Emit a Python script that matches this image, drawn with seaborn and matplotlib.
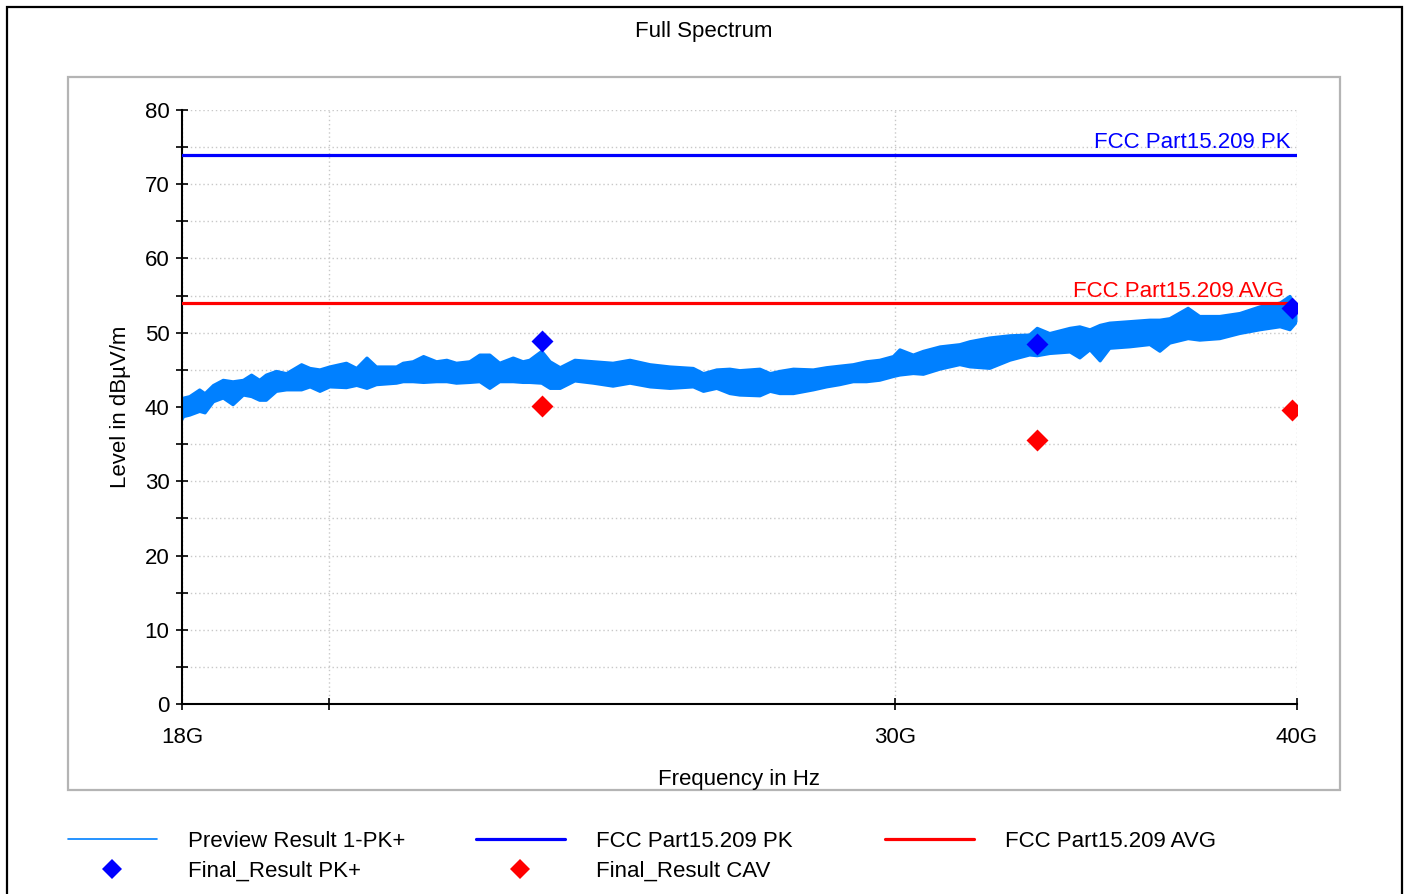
import numpy as np
import pandas as pd
import matplotlib
matplotlib.use("Agg")
import matplotlib.pyplot as plt
import seaborn as sns
from matplotlib.patches import Rectangle
from matplotlib.lines import Line2D

# ---------------- data ----------------
# envelope of the preview trace (top and bottom of the noisy band), dBuV/m
trace_freq_ghz = [18.00, 18.02, 18.10, 18.23, 18.30, 18.41, 18.54, 18.67, 18.81, 18.92,
                  19.03, 19.12, 19.26, 19.40, 19.61, 19.73, 19.87, 20.01, 20.25, 20.40,
                  20.55, 20.69, 20.99, 21.09, 21.24, 21.40, 21.60, 21.76, 21.91, 22.12,
                  22.28, 22.44, 22.60, 22.82, 22.98, 23.09, 23.29, 23.43, 23.60, 23.85,
                  24.17, 24.51, 24.81, 25.17, 25.53, 25.96, 26.15, 26.40, 26.65, 26.84,
                  27.23, 27.43, 27.62, 27.89, 28.29, 28.56, 28.83, 29.11, 29.39, 29.67,
                  29.96, 30.10, 30.39, 30.61, 30.98, 31.42, 31.65, 32.10, 32.57, 33.03,
                  33.21, 33.51, 34.00, 34.24, 34.49, 34.74, 34.98, 35.49, 36.00, 36.26,
                  36.52, 37.00, 37.31, 37.85, 38.40, 38.96, 39.52, 39.80, 40.00]
trace_upper = [40.8, 41.2, 41.4, 42.3, 41.8, 42.9, 43.6, 43.4, 43.6, 44.3,
               43.6, 44.3, 44.8, 44.5, 45.7, 45.2, 45.0, 45.4, 45.9, 45.2,
               46.6, 45.4, 45.4, 45.9, 46.1, 46.8, 46.1, 46.3, 45.9, 46.1,
               47.0, 47.0, 45.9, 46.6, 46.1, 46.3, 47.5, 46.1, 45.3, 46.3,
               46.1, 45.9, 46.3, 45.7, 45.4, 45.2, 44.5, 45.0, 45.1, 44.9,
               45.1, 44.5, 44.8, 45.1, 45.0, 45.3, 45.5, 45.7, 46.1, 46.3,
               46.8, 47.7, 47.0, 47.5, 48.1, 48.4, 48.8, 49.3, 49.6, 49.7,
               50.6, 49.9, 50.6, 50.8, 50.4, 51.0, 51.3, 51.5, 51.7, 51.7,
               51.9, 53.3, 52.2, 52.2, 52.6, 53.5, 54.0, 54.9, 53.0]
trace_lower = [38.3, 38.7, 38.9, 39.4, 39.2, 40.7, 41.2, 40.3, 41.6, 41.4,
               40.9, 40.9, 42.1, 42.3, 42.3, 42.7, 42.1, 42.7, 42.6, 42.9,
               42.5, 43.0, 43.2, 43.4, 43.4, 43.3, 43.4, 43.4, 43.2, 43.3,
               43.4, 42.5, 43.4, 43.4, 43.3, 43.3, 43.2, 42.5, 42.5, 43.5,
               43.2, 42.8, 43.2, 42.7, 42.5, 42.7, 42.1, 42.5, 41.8, 41.6,
               41.5, 42.1, 41.8, 41.8, 42.3, 42.7, 43.0, 43.4, 43.4, 43.6,
               44.1, 44.3, 44.5, 44.4, 45.1, 45.7, 45.4, 45.2, 46.3, 47.0,
               46.9, 47.2, 47.4, 46.6, 47.7, 46.2, 47.9, 48.1, 48.4, 47.5,
               48.6, 49.2, 49.0, 49.2, 49.9, 50.4, 50.8, 50.4, 51.5]

limit_freq_ghz = [18.0, 40.0]
limit_pk = [74.0, 74.0]
limit_avg = [54.0, 54.0]

final_freq_ghz = [23.29, 33.20, 39.85]
final_pk = [48.9, 48.5, 53.3]
final_cav = [40.1, 35.6, 39.6]

x_tick_ghz = [18, 20, 30, 40]
x_tick_labels = ["18G", "", "30G", "40G"]
y_ticks = list(range(0, 81, 5))
y_tick_labels = [str(v) if v % 10 == 0 else "" for v in y_ticks]

# ---------------- styling ----------------
sns.set_theme(style="white")
plt.rcParams["font.family"] = ["Liberation Sans", "DejaVu Sans"]
plt.rcParams["text.color"] = "black"
plt.rcParams["axes.labelcolor"] = "black"

C_TRACE = "#0080ff"
C_PK = "#0000ff"
C_AVG = "#ff0000"
FS = 16

fig = plt.figure(figsize=(14.08, 8.94), dpi=100)
W, H = 1408.0, 894.0

# outer border
fig.patches.append(Rectangle((7 / W, -0.02), (1402 - 7) / W, 1 - 7 / H + 0.02,
                             transform=fig.transFigure, fill=False,
                             edgecolor="black", linewidth=1.6, zorder=-2))
# inner panel
fig.patches.append(Rectangle((68 / W, 1 - 790 / H), (1340 - 68) / W, (790 - 77) / H,
                             transform=fig.transFigure, facecolor="white",
                             edgecolor="#b4b4b4", linewidth=1.6, zorder=-1))

fig.text(0.5, 1 - 32 / H, "Full Spectrum", ha="center", va="center", fontsize=FS)

ax = fig.add_axes([182 / W, 1 - 704 / H, (1297 - 182) / W, (704 - 110) / H])
ax.set_zorder(1)
ax.patch.set_alpha(0)

df_trace = pd.DataFrame({"f": np.array(trace_freq_ghz) * 1e9,
                         "lo": trace_lower, "hi": trace_upper})
ax.fill_between(df_trace["f"], df_trace["lo"], df_trace["hi"],
                color=C_TRACE, linewidth=0, zorder=2)
sns.lineplot(data=df_trace, x="f", y="hi", color=C_TRACE, lw=2.2, ax=ax, zorder=2)
sns.lineplot(data=df_trace, x="f", y="lo", color=C_TRACE, lw=2.2, ax=ax, zorder=2)

df_lim = pd.DataFrame({"f": np.array(limit_freq_ghz) * 1e9, "pk": limit_pk, "avg": limit_avg})
sns.lineplot(data=df_lim, x="f", y="pk", color=C_PK, lw=2.3, ax=ax, zorder=3)
sns.lineplot(data=df_lim, x="f", y="avg", color=C_AVG, lw=2.3, ax=ax, zorder=3)

df_fin = pd.DataFrame({"f": np.array(final_freq_ghz) * 1e9, "pk": final_pk, "cav": final_cav})
sns.scatterplot(data=df_fin, x="f", y="pk", marker="D", color=C_PK, s=125,
                linewidth=0, ax=ax, zorder=4)
sns.scatterplot(data=df_fin, x="f", y="cav", marker="D", color=C_AVG, s=125,
                linewidth=0, ax=ax, zorder=4)

ax.annotate("FCC Part15.209 PK", xy=(0.994, limit_pk[0]), xycoords=("axes fraction", "data"),
            xytext=(0, 4.5), textcoords="offset points", ha="right", va="baseline",
            color=C_PK, fontsize=FS)
ax.annotate("FCC Part15.209 AVG", xy=(0.988, limit_avg[0]), xycoords=("axes fraction", "data"),
            xytext=(0, 4.5), textcoords="offset points", ha="right", va="baseline",
            color=C_AVG, fontsize=FS)

ax.set_xscale("log")
ax.set_xlim(18e9, 40e9)
ax.set_ylim(0, 80)
ax.set_xticks([v * 1e9 for v in x_tick_ghz])
ax.set_xticklabels(x_tick_labels)
ax.xaxis.set_minor_locator(matplotlib.ticker.NullLocator())
ax.set_yticks(y_ticks)
ax.set_yticklabels(y_tick_labels)

ax.tick_params(axis="both", direction="inout", length=8, width=1.2, color="black",
               labelsize=FS, labelcolor="black", left=True, bottom=True)
ax.tick_params(axis="y", pad=5)
ax.tick_params(axis="x", pad=12.5)

ax.grid(True, which="major", linestyle=(0, (1, 2)), color="#c8c8c8", linewidth=1)
ax.set_axisbelow(True)
for s in ["top", "right"]:
    ax.spines[s].set_visible(False)
for s in ["left", "bottom"]:
    ax.spines[s].set_color("black")
    ax.spines[s].set_linewidth(1.5)

ax.set_ylabel("Level in dBµV/m", fontsize=FS, labelpad=10, color="black")
ax.set_xlabel("Frequency in Hz", fontsize=FS, labelpad=15, color="black")

# legends
h_prev = Line2D([], [], color=C_TRACE, lw=1.2)
h_pk = Line2D([], [], color=C_PK, lw=2.3)
h_avg = Line2D([], [], color=C_AVG, lw=2.3)
h_fpk = Line2D([], [], color=C_PK, marker="D", ls="none", markersize=10, markeredgewidth=0)
h_fcav = Line2D([], [], color=C_AVG, marker="D", ls="none", markersize=10, markeredgewidth=0)

leg_kw = dict(loc="upper left", frameon=False, fontsize=FS, handlelength=4.0,
              handletextpad=1.4, labelspacing=0.38, borderpad=0, borderaxespad=0)
top = 1 - 831 / H
fig.legend([h_prev, h_fpk], ["Preview Result 1-PK+", "Final_Result PK+"],
           bbox_to_anchor=(68 / W, top), **leg_kw)
fig.legend([h_pk, h_fcav], ["FCC Part15.209 PK", "Final_Result CAV"],
           bbox_to_anchor=(476 / W, top), **leg_kw)
fig.legend([h_avg], ["FCC Part15.209 AVG"],
           bbox_to_anchor=(885 / W, top), **leg_kw)

fig.savefig("out.png", dpi=100)
